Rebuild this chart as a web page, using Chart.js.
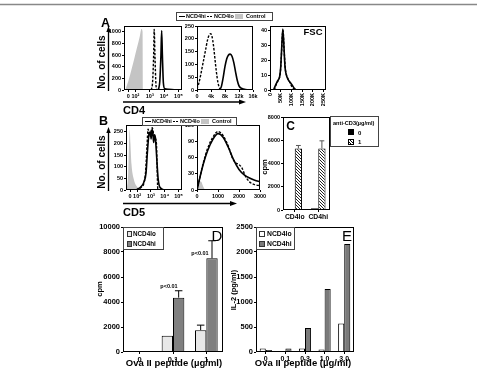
<!DOCTYPE html>
<html>
<head>
<meta charset="utf-8">
<script src="https://cdn.jsdelivr.net/npm/chart.js@4.4.1/dist/chart.umd.min.js"></script>
<style>
  body { margin: 0; width: 477px; height: 372px; background: #fff; position: relative; overflow: hidden;
         font-family: 'Liberation Sans', Arial, sans-serif; font-weight: bold; color: #000; }
  canvas { position: absolute; }
  svg { position: absolute; left: 0; top: 0; }
  .t { position: absolute; white-space: nowrap; line-height: 1; filter: grayscale(1); }
  .lg { position: absolute; border: 1px solid #444; background: #fff; box-sizing: border-box; filter: grayscale(1); }
  .lg span { position: absolute; white-space: nowrap; line-height: 1; }
  .ln { width: 6px; height: 1.3px; background: #000; }
  .dl { width: 6px; height: 1.3px; background: repeating-linear-gradient(90deg, #000 0 2px, #fff 2px 3.5px); }
</style>
</head>
<body>
<svg width="477" height="372">
  <line x1="0" y1="4.5" x2="477" y2="4.5" stroke="#888" stroke-width="1.5"/>
  <line x1="108.5" y1="91" x2="108.5" y2="31" stroke="#000" stroke-width="1.3"/>
  <polygon points="106.3,32 110.7,32 108.5,26" fill="#000"/>
  <line x1="123" y1="102" x2="240" y2="102" stroke="#000" stroke-width="1.5"/>
  <polygon points="239,99.6 239,104.4 246,102" fill="#000"/>
  <line x1="108.5" y1="191" x2="108.5" y2="132" stroke="#000" stroke-width="1.3"/>
  <polygon points="106.3,133 110.7,133 108.5,127" fill="#000"/>
  <line x1="123" y1="203.5" x2="231" y2="203.5" stroke="#000" stroke-width="1.5"/>
  <polygon points="230,201.1 230,205.9 237,203.5" fill="#000"/>
</svg>
<canvas id="a1"></canvas>
<canvas id="a2"></canvas>
<canvas id="a3"></canvas>
<canvas id="b1"></canvas>
<canvas id="b2"></canvas>
<canvas id="c"></canvas>
<canvas id="d"></canvas>
<canvas id="e"></canvas>

<div class="lg" style="left:176px;top:12px;width:97px;height:8.5px">
  <span class="ln" style="left:2px;top:3px"></span>
  <span style="left:9px;top:1.3px;font-size:5.5px">NCD4hi</span>
  <span class="dl" style="left:30px;top:3px"></span>
  <span style="left:37px;top:1.3px;font-size:5.5px">NCD4lo</span>
  <span style="left:58px;top:0.5px;width:8px;height:5.5px;background:#c4c4c4"></span>
  <span style="left:69px;top:1.3px;font-size:5.5px">Control</span>
</div>
<div class="lg" style="left:142px;top:117px;width:95px;height:8.5px">
  <span class="ln" style="left:2px;top:3px"></span>
  <span style="left:9px;top:1.3px;font-size:5.5px">NCD4hi</span>
  <span class="dl" style="left:30px;top:3px"></span>
  <span style="left:37px;top:1.3px;font-size:5.5px">NCD4lo</span>
  <span style="left:58px;top:0.5px;width:8px;height:5.5px;background:#c4c4c4"></span>
  <span style="left:69px;top:1.3px;font-size:5.5px">Control</span>
</div>
<div class="lg" style="left:330px;top:116px;width:49px;height:31px">
  <span style="left:2px;top:4px;font-size:5.6px">anti-CD3(µg/ml)</span>
  <span style="left:17px;top:12px;width:6px;height:6px;background:#000"></span>
  <span style="left:27px;top:12.5px;font-size:6px">0</span>
  <span style="left:17px;top:21.5px;width:6px;height:6px;border:0.5px solid #000;box-sizing:border-box;background:repeating-linear-gradient(45deg,#fff 0 1.1px,#000 1.1px 2px)"></span>
  <span style="left:27px;top:22px;font-size:6px">1</span>
</div>
<div class="lg" style="left:123px;top:227px;width:41px;height:23px">
  <span style="left:2.5px;top:3px;width:5px;height:6px;border:1px solid #333;box-sizing:border-box;background:#e8e8e8"></span>
  <span style="left:9px;top:3.3px;font-size:6.3px">NCD4lo</span>
  <span style="left:2.5px;top:13px;width:5px;height:6px;border:1px solid #333;box-sizing:border-box;background:#808080"></span>
  <span style="left:9px;top:13.3px;font-size:6.3px">NCD4hi</span>
</div>
<div class="lg" style="left:256px;top:227px;width:39px;height:23px">
  <span style="left:2px;top:3px;width:6px;height:6px;border:1px solid #333;box-sizing:border-box;background:#fff"></span>
  <span style="left:10px;top:3px;font-size:6.8px">NCD4lo</span>
  <span style="left:2px;top:13px;width:6px;height:6px;border:1px solid #333;box-sizing:border-box;background:#7a7a7a"></span>
  <span style="left:10px;top:13px;font-size:6.8px">NCD4hi</span>
</div>

<script>
const FONT = "'Liberation Sans', Arial, sans-serif";

// ---- panel A : CD4 (x in log decades, biexponential display)
const logTicks = [1.5, 2, 3, 4, 5];
const logLabels = ['0', '10²', '10³', '10⁴', '10⁵'];
const a1Counts = [0, 200, 400, 600, 800, 1000];
const a1Ctrl = [[1.29,0],[1.5,150],[1.7,330],[1.9,520],[2.1,720],[2.3,920],[2.42,1050],[2.5,1000],[2.52,0]];
const a1Lo = [[3.1,0],[3.2,150],[3.27,600],[3.31,1040],[3.36,600],[3.43,100],[3.5,0]];
const a1Hi = [[3.6,0],[3.7,150],[3.78,600],[3.83,1020],[3.88,600],[3.95,120],[4.05,20],[4.3,10],[4.7,5],[5.2,0]];

// panel A : CD4 linear
const a2Ticks = [0, 4000, 8000, 12000, 16000];
const a2Counts = [0, 50, 100, 150, 200, 250];
const a2Ctrl = [[0,0],[150,12],[300,0]];
const a2Lo = [[0,5],[500,25],[1000,55],[1500,90],[2000,125],[2500,160],[3000,195],[3500,215],[3900,220],[4300,208],[4700,175],[5100,125],[5500,75],[6000,28],[6500,6],[7000,0]];
const a2Hi = [[6500,0],[7000,15],[7500,50],[8000,92],[8500,122],[9000,137],[9500,140],[10000,132],[10500,108],[11000,72],[11500,38],[12000,16],[12500,8],[13000,5],[14000,2],[14500,0]];

// panel A : FSC
const fscTicks = [0, 50000, 100000, 150000, 200000, 250000];
const fscCounts = [0, 10, 20, 30, 40];
const fscHi = [[0,0],[15000,0],[25000,3],[35000,6],[45000,9],[50000,15],[55000,29],[60000,41],[65000,30],[70000,16],[75000,11],[85000,7],[95000,5],[105000,3],[115000,1],[125000,0],[262000,0]];
const fscLo = [[20000,0],[30000,4],[40000,7],[48000,11],[53000,22],[58000,37],[61000,40],[66000,27],[72000,14],[80000,9],[90000,6],[100000,3],[110000,1],[120000,0]];

// ---- panel B : CD5
const b1Counts = [0, 50, 100, 150, 200, 250];
const b1Ctrl = [[1.2,0],[1.35,60],[1.42,200],[1.47,262],[1.52,200],[1.6,110],[1.75,50],[1.95,18],[2.2,5],[2.5,0]];
const b1Hi = [[1.95,0],[2.3,15],[2.5,35],[2.65,75],[2.75,165],[2.85,235],[2.95,250],[3.02,220],[3.08,262],[3.14,248],[3.2,205],[3.26,238],[3.32,228],[3.38,180],[3.45,110],[3.52,50],[3.6,20],[3.75,6],[4.0,0]];
const b1Lo = [[1.95,0],[2.3,12],[2.5,30],[2.62,80],[2.72,190],[2.8,262],[2.9,232],[3.0,250],[3.1,268],[3.2,240],[3.3,225],[3.4,200],[3.45,100],[3.5,5],[3.6,0]];

const b2Ticks = [0, 1000, 2000, 3000];
const b2Counts = [0, 30, 60, 90, 120];
const b2Ctrl = [[0,0],[80,10],[180,16],[280,8],[380,0]];
const b2Hi = [[0,0],[150,25],[300,48],[500,72],[750,93],[1000,104],[1250,97],[1500,78],[1750,55],[2000,38],[2250,28],[2500,22],[2750,18],[3000,15]];
const b2Lo = [[0,0],[150,25],[300,50],[500,76],[750,97],[1000,108],[1250,100],[1500,80],[1700,58],[1850,50],[2000,47],[2150,40],[2300,26],[2500,15],[2750,10],[3000,8]];

// ---- panel C : anti-CD3 proliferation
const cCats = ['CD4lo', 'CD4hi'];
const cTicks = [0, 2000, 4000, 6000, 8000];
const cAnti0 = [30, 150];
const cAnti1 = [5300, 5300];
const cAnti1Err = [250, 650];

// ---- panel D : Ova II proliferation
const dCats = ['0', '0.1', '1'];
const dTicks = [0, 2000, 4000, 6000, 8000, 10000];
const dLo = [50, 1300, 1750];
const dLoErr = [0, 0, 400];
const dHi = [50, 4350, 7500];
const dHiErr = [0, 550, 1400];

// ---- panel E : IL-2
const eCats = ['0', '0.1', '0.3', '1.0', '3.0'];
const eTicks = [0, 500, 1000, 1500, 2000, 2500];
const eLo = [70, 0, 70, 50, 570];
const eHi = [40, 70, 480, 1260, 2160];

const frame = {
  id: 'frame',
  afterDraw(chart) {
    const a = chart.chartArea, g = chart.ctx;
    g.save();
    g.strokeStyle = '#000'; g.lineWidth = 1;
    g.strokeRect(Math.round(a.left) + 0.5, Math.round(a.top) + 0.5, Math.round(a.right - a.left) - 1, Math.round(a.bottom - a.top) - 1);
    g.restore();
  }
};

const errBars = {
  id: 'errBars',
  afterDatasetsDraw(chart) {
    const g = chart.ctx, ys = chart.scales.y;
    chart.data.datasets.forEach((ds, i) => {
      if (!ds.err) return;
      chart.getDatasetMeta(i).data.forEach((bar, j) => {
        const e = ds.err[j];
        if (!e) return;
        const top = ys.getPixelForValue(ds.data[j] + e);
        const w = bar.width * 0.33;
        g.save();
        g.strokeStyle = ds.errColor || '#000'; g.lineWidth = 1;
        g.beginPath();
        g.moveTo(bar.x, bar.y); g.lineTo(bar.x, top);
        g.moveTo(bar.x - w, top); g.lineTo(bar.x + w, top);
        g.stroke();
        g.restore();
      });
    });
  }
};

function hatch() {
  const p = document.createElement('canvas');
  p.width = 3; p.height = 3;
  const g = p.getContext('2d');
  g.fillStyle = '#fff'; g.fillRect(0, 0, 3, 3);
  g.fillStyle = '#222';
  for (let i = 0; i < 3; i++) g.fillRect(i, i, 1, 1);
  return g.createPattern(p, 'repeat');
}

function tickFont(size) {
  return { color: '#000', font: { family: FONT, size: size, weight: 'bold' }, padding: 1, autoSkip: false };
}
const gridCfg = { drawOnChartArea: false, color: '#000', tickColor: '#000', tickLength: 2, lineWidth: 1 };

function linAxis(min, max, vals, size, fmt, rot) {
  const t = tickFont(size);
  t.minRotation = rot || 0; t.maxRotation = rot || 0;
  t.callback = fmt || (v => String(v));
  return {
    type: 'linear', min: min, max: max,
    afterBuildTicks: s => { s.ticks = vals.map(v => ({ value: v })); },
    grid: gridCfg, border: { display: false }, ticks: t
  };
}

function catAxis(size) {
  const t = tickFont(size);
  t.maxRotation = 0;
  return { type: 'category', offset: true, grid: Object.assign({}, gridCfg, { offset: false }), border: { display: false }, ticks: t };
}

// box = plot area [left, top, right, bottom] on the page, m = margins [left, top, right, bottom]
function make(id, box, m, type, datasets, x, y, labels) {
  const c = document.getElementById(id);
  const w = box[2] - box[0] + m[0] + m[2], h = box[3] - box[1] + m[1] + m[3];
  c.width = w; c.height = h;
  c.style.left = (box[0] - m[0]) + 'px'; c.style.top = (box[1] - m[1]) + 'px';
  c.style.width = w + 'px'; c.style.height = h + 'px';
  x.afterFit = s => { s.height = m[3]; s.paddingLeft = 0; s.paddingRight = 0; };
  y.afterFit = s => { s.width = m[0]; s.paddingTop = 0; s.paddingBottom = 0; };
  const data = { datasets: datasets };
  if (labels) data.labels = labels;
  return new Chart(c, {
    type: type,
    data: data,
    plugins: [frame, errBars],
    options: {
      responsive: false, animation: false, events: [],
      layout: { padding: { left: 0, top: m[1], right: m[2], bottom: 0 } },
      plugins: { legend: { display: false }, tooltip: { enabled: false } },
      scales: { x: x, y: y }
    }
  });
}

function pts(arr) { return arr.map(p => ({ x: p[0], y: p[1] })); }
function solid(arr, tension) {
  return { data: pts(arr), borderColor: '#000', borderWidth: 1.6, pointRadius: 0, tension: tension || 0, cubicInterpolationMode: 'monotone', fill: false };
}
function dashed(arr, tension) {
  return { data: pts(arr), borderColor: '#000', borderWidth: 1.4, borderDash: [2.5, 1.5], pointRadius: 0, tension: tension || 0, cubicInterpolationMode: 'monotone', fill: false };
}
function grayFill(arr, tension) {
  return { data: pts(arr), borderColor: '#c4c4c4', backgroundColor: '#c4c4c4', borderWidth: 0, pointRadius: 0, tension: tension || 0, cubicInterpolationMode: 'monotone', fill: 'origin' };
}

const logFmt = (v, i) => logLabels[i];
const kFmt = v => v ? (v / 1000) + 'k' : '0';
const KFmt = v => v ? (v / 1000) + 'K' : '0';

make('a1', [124, 26, 182, 90], [24, 4, 4, 10], 'line',
  [solid(a1Hi), dashed(a1Lo), grayFill(a1Ctrl, 0.3)],
  linAxis(1.2, 5.25, logTicks, 5.5, logFmt), linAxis(0, 1100, a1Counts, 5.5));

make('a2', [197, 26, 253, 90], [14, 4, 6, 10], 'line',
  [solid(a2Hi, 0.4), dashed(a2Lo, 0.4), grayFill(a2Ctrl, 0.4)],
  linAxis(0, 16000, a2Ticks, 5.5, kFmt), linAxis(0, 250, a2Counts, 5.5));

make('a3', [270, 26, 326, 90], [10, 4, 3, 22], 'line',
  [solid(fscHi, 0.2), dashed(fscLo, 0.2)],
  linAxis(0, 262144, fscTicks, 5.5, KFmt, 90), linAxis(0, 43, fscCounts, 5.5));

make('b1', [126, 125, 182, 190], [20, 4, 4, 10], 'line',
  [solid(b1Hi), dashed(b1Lo), grayFill(b1Ctrl, 0.3)],
  linAxis(1.2, 5.25, logTicks, 5.5, logFmt), linAxis(0, 280, b1Counts, 5.5));

make('b2', [197, 125, 260, 190], [12, 4, 8, 10], 'line',
  [solid(b2Hi, 0.4), dashed(b2Lo, 0.4), grayFill(b2Ctrl, 0.4)],
  linAxis(0, 3000, b2Ticks, 5.5), linAxis(0, 120, b2Counts, 5.5));

const cBar = { barPercentage: 1, categoryPercentage: 0.62, borderColor: '#000', borderWidth: 1 };
make('c', [283, 117, 330, 210], [16, 4, 2, 10], 'bar',
  [Object.assign({ data: cAnti0, backgroundColor: '#000' }, cBar),
   Object.assign({ data: cAnti1, err: cAnti1Err, errColor: '#555', backgroundColor: hatch() }, cBar)],
  catAxis(6.8), linAxis(0, 8000, cTicks, 5.5), cCats);

const dBar = { barPercentage: 1, categoryPercentage: 0.68, borderColor: '#000', borderWidth: 1 };
make('d', [123, 227, 223, 352], [26, 5, 2, 10], 'bar',
  [Object.assign({ data: dLo, err: dLoErr, backgroundColor: '#e8e8e8' }, dBar),
   Object.assign({ data: dHi, err: dHiErr, backgroundColor: '#808080' }, dBar)],
  catAxis(7.5), linAxis(0, 10000, dTicks, 7.5), dCats);

const eBar = { barPercentage: 1, categoryPercentage: 0.62, borderColor: '#000', borderWidth: 1 };
make('e', [256, 227, 354, 352], [20, 5, 3, 10], 'bar',
  [Object.assign({ data: eLo, backgroundColor: '#fff' }, eBar),
   Object.assign({ data: eHi, backgroundColor: '#7a7a7a' }, eBar)],
  catAxis(7), linAxis(0, 2500, eTicks, 7.5), eCats);

// text labels
function label(text, x, y, size, opts) {
  opts = opts || {};
  const d = document.createElement('div');
  d.className = 't';
  d.textContent = text;
  d.style.left = x + 'px'; d.style.top = y + 'px'; d.style.fontSize = size + 'px';
  if (opts.weight) d.style.fontWeight = opts.weight;
  d.style.transform = 'translate(-50%,-50%)' + (opts.rot ? ' rotate(-90deg)' : '');
  document.body.appendChild(d);
}
label('A', 105.5, 22.5, 12.5);
label('B', 103.5, 121, 12.5);
label('No. of cells', 101.5, 62, 10, { rot: true });
label('No. of cells', 101.5, 161.5, 10, { rot: true });
label('CD4', 134, 109.5, 11);
label('CD5', 134, 211.5, 11);
label('FSC', 313, 32, 9.5);
label('C', 290.5, 126, 12);
label('cpm', 265, 167, 7.5, { rot: true });
label('D', 217, 235, 15, { weight: 'normal' });
label('E', 347, 235, 15, { weight: 'normal' });
label('cpm', 100, 289, 7.5, { rot: true });
label('IL-2 (pg/ml)', 234, 290, 7.5, { rot: true });
label('p<0.01', 169, 286.5, 5.5);
label('p<0.01', 200, 253.5, 5.5);
label('Ova II peptide (µg/ml)', 174, 363, 9.5);
label('Ova II peptide (µg/ml)', 303, 363, 9.5);
</script>
</body>
</html>
